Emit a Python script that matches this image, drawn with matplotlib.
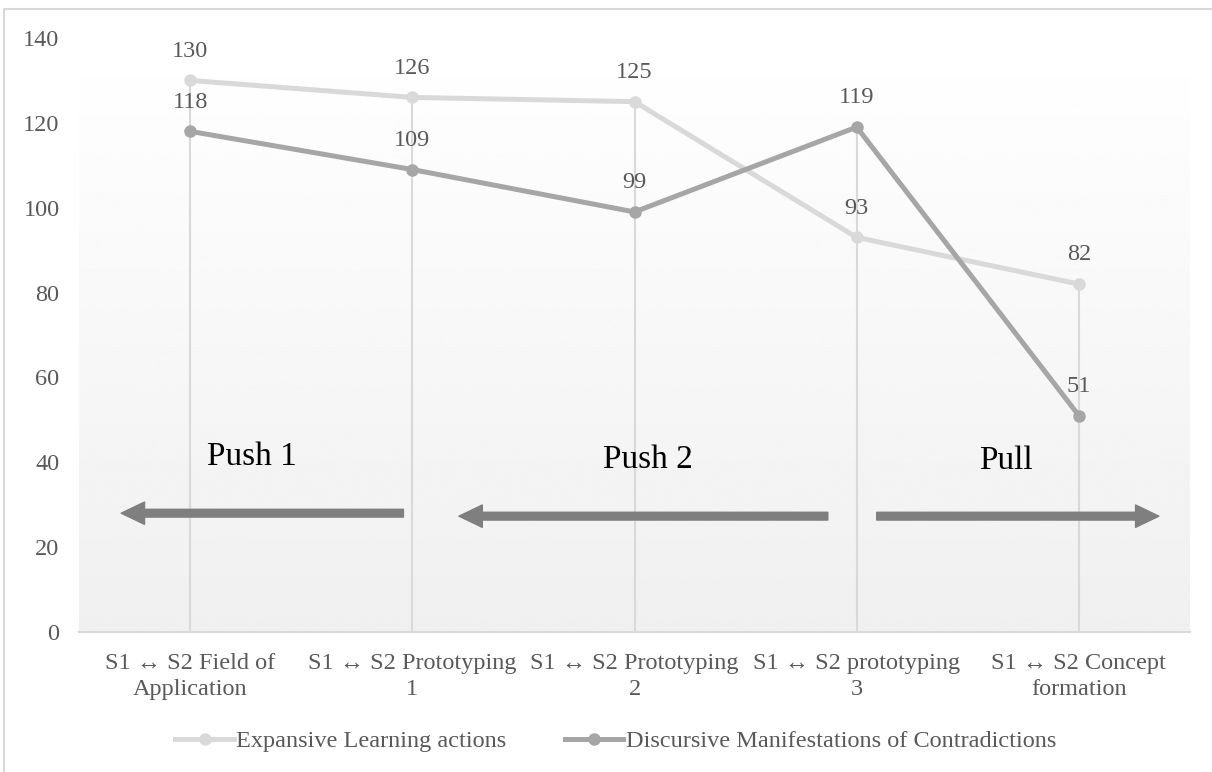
import numpy as np
import matplotlib
matplotlib.use("Agg")
import matplotlib.pyplot as plt
from matplotlib.patches import Rectangle

plt.rcParams['font.family'] = ['Liberation Serif', 'DejaVu Serif']

# ---------------- data ----------------
categories = [
    "S1 \u2194 S2 Field of\nApplication",
    "S1 \u2194 S2 Prototyping\n1",
    "S1 \u2194 S2 Prototyping\n2",
    "S1 \u2194 S2 prototyping\n3",
    "S1 \u2194 S2 Concept\nformation",
]
expansive = [130, 126, 125, 93, 82]
discursive = [118, 109, 99, 119, 51]
series_names = ["Expansive Learning actions", "Discursive Manifestations of Contradictions"]
y_ticks = [0, 20, 40, 60, 80, 100, 120, 140]

# phase annotations: label, label position, arrow tail, arrow tip
phase_labels = ["Push 1", "Push 2", "Pull"]
label_pos = [(0.28, 41.2), (2.06, 40.5), (3.67, 40.3)]
arrow_tail = [(0.96, 28.0), (2.87, 27.3), (3.09, 27.3)]
arrow_tip = [(-0.31, 28.0), (1.21, 27.3), (4.36, 27.3)]

LIGHT = "#d9d9d9"
DARK = "#a6a6a6"
TEXT = "#595959"
FS = 17.5

fig = plt.figure(figsize=(12.12, 7.72), dpi=100)
ax = fig.add_axes([79 / 1212, 1 - 632 / 772, (1190 - 79) / 1212, (632 - 38) / 772])

# outer chart frame
fig.patches.append(Rectangle((4 / 1212, -0.02), 1.05, 1 - 9 / 772 + 0.02,
                             transform=fig.transFigure, fill=False,
                             edgecolor=LIGHT, linewidth=1.5, zorder=0))

# gradient plot background
grad = np.linspace(1.0, 0.94, 256).reshape(-1, 1)
ax.imshow(grad, cmap="gray", vmin=0, vmax=1, extent=[0, 1, 0, 1],
          transform=ax.transAxes, aspect="auto", zorder=0, interpolation="bilinear")
ax.set_facecolor("white")

x = np.arange(len(categories))

# drop lines
tops = np.maximum(expansive, discursive)
ax.vlines(x, 0, tops, color=LIGHT, linewidth=1.5, zorder=1)

ax.plot(x, expansive, color=LIGHT, linewidth=3.6, marker="o", markersize=8,
        label=series_names[0], zorder=3)
ax.plot(x, discursive, color=DARK, linewidth=3.6, marker="o", markersize=8,
        label=series_names[1], zorder=4)

for xi, v in zip(x, expansive):
    ax.annotate(str(v), (xi, v), xytext=(0, 21), textcoords="offset points",
                ha="center", va="center", fontsize=FS, color=TEXT, zorder=5)
for xi, v in zip(x, discursive):
    ax.annotate(str(v), (xi, v), xytext=(0, 21), textcoords="offset points",
                ha="center", va="center", fontsize=FS, color=TEXT, zorder=5)

# phase arrows
for lab, pos, tail, tip in zip(phase_labels, label_pos, arrow_tail, arrow_tip):
    ax.text(pos[0], pos[1], lab, ha="center", va="center", fontsize=24, color="black", zorder=5)
    ax.annotate("", xy=tip, xytext=tail,
                arrowprops=dict(arrowstyle="simple,head_length=1.2,head_width=1.15,tail_width=0.4",
                                mutation_scale=14, color="#7f7f7f", shrinkA=0, shrinkB=0),
                zorder=5)

ax.set_xlim(-0.5, len(categories) - 0.5)
ax.set_ylim(0, 140)
ax.set_yticks(y_ticks)
ax.set_xticks(x)
ax.set_xticklabels(categories, fontsize=FS, color=TEXT, linespacing=1.3)
ax.tick_params(axis="y", length=0, pad=14, labelsize=FS, labelcolor=TEXT)
ax.tick_params(axis="x", length=0, pad=15)

for s in ["top", "right", "left"]:
    ax.spines[s].set_visible(False)
ax.spines["bottom"].set_color(LIGHT)
ax.spines["bottom"].set_linewidth(1.5)
ax.spines["bottom"].set_zorder(2)

fig.legend(loc="center", bbox_to_anchor=(0.508, 1 - 741 / 772), ncol=2, frameon=False,
           fontsize=FS, labelcolor=TEXT, handlelength=2.4, handletextpad=0.1,
           columnspacing=2.4)

fig.savefig("out.png", dpi=100)
